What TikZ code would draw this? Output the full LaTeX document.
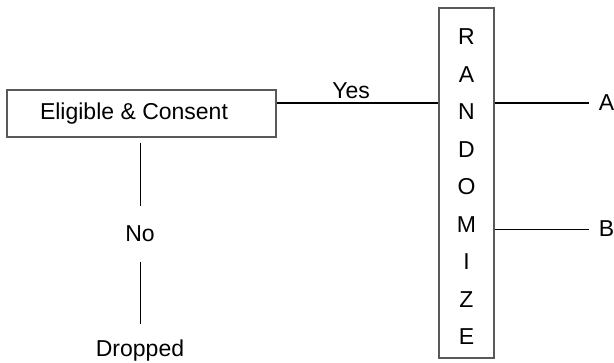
\documentclass[tikz,border=0pt]{standalone}
\usepackage{fontspec}
\setmainfont{Liberation Sans}
\begin{document}
\begin{tikzpicture}[x=1pt,y=-1pt,
  font=\fontsize{23}{27}\selectfont,
  boxstyle/.style={draw=black!65, line width=1.2pt, inner sep=0pt},
  thickline/.style={line width=1.8pt},
  thinline/.style={line width=0.9pt},
  lab/.style={inner sep=0pt}]
\useasboundingbox (0,0) rectangle (614,362);
\node[boxstyle, minimum width=269pt, minimum height=47pt] (elig) at (141.5,113.5) {Eligible \& Consent\kern15pt};
\node[boxstyle, minimum width=55pt, minimum height=350pt] (rand) at (466.5,183) {};
\node[lab, align=center, font=\fontsize{23}{37.5}\selectfont] (randtxt) at (466.5,187) {R\\A\\N\\D\\O\\M\\I\\Z\\E};
\coordinate (ya) at (0,103);
\coordinate (yb) at (0,229);
\node[lab, inner xsep=10pt] (alab) at (606.5,103) {A};
\node[lab, inner xsep=10pt] (blab) at (606.5,229) {B};
\node[lab, inner ysep=20pt] (no) at (140,234) {No};
\node[lab, anchor=north, inner ysep=0pt] (drop) at (140,340) {Dropped};
\draw[thickline] (elig.east |- ya) -- node[pos=0.46, above, inner sep=3pt] (yes) {Yes} (rand.west |- ya);
\draw[thickline] (rand.east |- ya) -- (alab.west);
\draw[thinline] (rand.east |- yb) -- (blab.west);
\draw[thinline, shorten <=5pt] (elig.south -| no) -- (no.north);
\draw[thinline, shorten >=16pt] (no.south) -- (drop.north);
\end{tikzpicture}
\end{document}
